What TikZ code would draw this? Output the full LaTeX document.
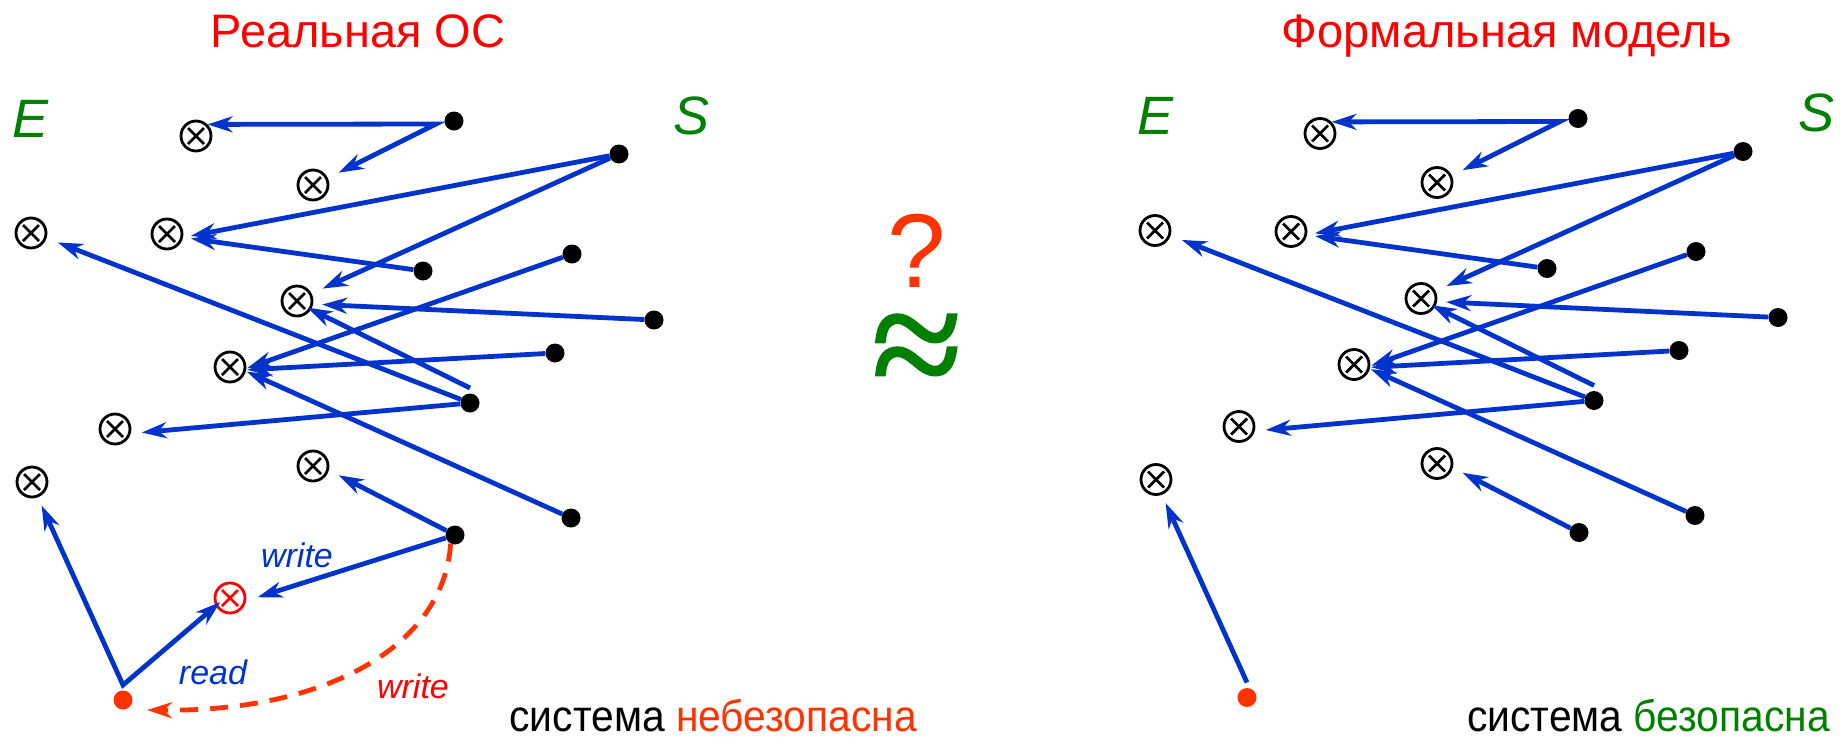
\documentclass[tikz,border=0pt]{standalone}
\usepackage{fontspec}
\setmainfont{Liberation Sans}
\newfontfamily\approxfont[FakeBold=1.5]{Liberation Serif}
\usetikzlibrary{arrows.meta}
\definecolor{lblue}{RGB}{0,51,204}
\definecolor{lgreen}{RGB}{0,128,0}
\definecolor{lred}{RGB}{255,0,0}
\definecolor{lorange}{RGB}{255,51,0}
\tikzset{
  tipb/.tip={Stealth[length=25pt,width=16pt,inset=8pt]},
  xo/.style={circle, draw=#1, line width=2.8pt, minimum size=30pt, inner sep=0pt,
    path picture={\draw[#1, line width=2.8pt]
      ([shift={(-8pt,-8pt)}]path picture bounding box.center) -- ([shift={(8pt,8pt)}]path picture bounding box.center)
      ([shift={(-8pt,8pt)}]path picture bounding box.center) -- ([shift={(8pt,-8pt)}]path picture bounding box.center);}},
  xo/.default=black,
  bdot/.style={circle, fill=#1, inner sep=0pt, minimum size=19pt},
  bdot/.default=black,
  arr/.style={draw=lblue, line width=4.8pt, -tipb},
  arrv/.style={draw=lblue, line width=4.8pt, tipb-tipb, line join=miter},
  setlab/.style={font=\fontsize{54}{54}\selectfont\itshape, text=lgreen, inner sep=0pt, anchor=base},
  ttl/.style={font=\fontsize{47}{47}\selectfont, text=lred, inner sep=0pt, anchor=base},
  btm/.style={font=\fontsize{44}{44}\selectfont\addfontfeature{FakeStretch=0.927}, inner sep=0pt, anchor=base east},
  oplab/.style={font=\fontsize{34}{34}\selectfont\itshape, inner sep=0pt, anchor=base},
}
\newcommand\drawpanel[2]{%
\begin{scope}[shift={#2}]
  \node[setlab] (#1E) at (31,137) {E};
  \node[setlab] (#1S) at (692,134) {S};
  \node[xo] (#1a1) at (196,136) {};
  \node[xo] (#1a2) at (313,185) {};
  \node[xo] (#1a3) at (31,233) {};
  \node[xo] (#1a4) at (167,234) {};
  \node[xo] (#1a5) at (297,301) {};
  \node[xo] (#1a6) at (230,367) {};
  \node[xo] (#1a7) at (115,429) {};
  \node[xo] (#1a8) at (32,482) {};
  \node[xo] (#1a9) at (313,466) {};
  \node[bdot] (#1d1) at (454,121) {};
  \node[bdot] (#1d2) at (619,154) {};
  \node[bdot] (#1d3) at (423,271) {};
  \node[bdot] (#1d4) at (572,254) {};
  \node[bdot] (#1d5) at (654,320) {};
  \node[bdot] (#1d6) at (555,353) {};
  \node[bdot] (#1d7) at (470,403) {};
  \node[bdot] (#1d8) at (571,518) {};
  \node[bdot] (#1d9) at (455,535) {};
  \node[bdot=lorange] (#1p) at (123,700) {};
  \coordinate (#1s1) at (436,124);
  \coordinate (#1f7) at (470,388);
  \coordinate (#1p0) at (123,685);
  \draw[arrv, shorten >=12pt] (#1a1.45) -- (#1s1) -- (#1a2.25);
  \draw[arr, shorten >=8pt] (#1d2) -- (#1a4.-12);
  \draw[arr, shorten >=8pt] (#1d3) -- (#1a4.-12);
  \draw[arr, shorten >=12pt] (#1d2) -- (#1a5.27);
  \draw[arr, shorten >=9pt] (#1d5) -- (#1a5.-11);
  \draw[arr, shorten >=-4pt] (#1f7) -- (#1a5.-31);
  \draw[arr, shorten >=1pt] (#1d4) -- (#1a6.-5);
  \draw[arr, shorten >=1pt] (#1d6) -- (#1a6.-10);
  \draw[arr, shorten >=1pt] (#1d8) -- (#1a6.-15);
  \draw[arr, shorten >=12pt] (#1d7) -- (#1a3.-18);
  \draw[arr, shorten >=11pt] (#1d7) -- (#1a7.-16);
  \draw[arr, shorten >=11pt] (#1d9) -- (#1a9.-15);
\end{scope}}
\begin{document}
\begin{tikzpicture}[x=1pt,y=-1pt]
\useasboundingbox (0,0) rectangle (1845,737);
\node[ttl] (t1) at (358,47) {Реальная ОС};
\node[ttl] (t2) at (1507,47) {Формальная модель};
\drawpanel{L}{(0,0)}
\drawpanel{R}{(1124,-2.5)}
% left extras
\node[xo=lred] (Lr) at (230,598) {};
\coordinate (Ltip) at (147,710);
\draw[arrv, shorten <=9pt, shorten >=-6pt] (La8.-69) -- (Lp0) -- (Lr.-151);
\draw[arr, shorten >=12pt] (Ld9) -- (Lr.-10);
\draw[draw=lorange, line width=4.8pt, dash pattern=on 18pt off 12pt, -tipb]
  (Ld9.-117) .. controls +(-6,100) and +(183,2) .. (Ltip);
\node[oplab, text=lblue] (w1) at (297,567) {write};
\node[oplab, text=lblue] (rd) at (213,684) {read};
\node[oplab, text=lred] (w2) at (413,698) {write};
\node[btm] (b1) at (917,731) {система \textcolor{lorange}{небезопасна}};
% right extras
\draw[arr, shorten >=9pt] (Rp0) -- (Ra8.-69);
\node[btm] (b2) at (1830,731) {система \textcolor{lgreen}{безопасна}};
% middle
\node[font=\fontsize{105}{105}\selectfont, text=lorange, inner sep=0pt, anchor=base] (q) at (917,287) {?};
\node[font=\approxfont\fontsize{165}{165}\selectfont, text=lgreen, inner sep=0pt] (ap) at (917,357) {≈};
\end{tikzpicture}
\end{document}
